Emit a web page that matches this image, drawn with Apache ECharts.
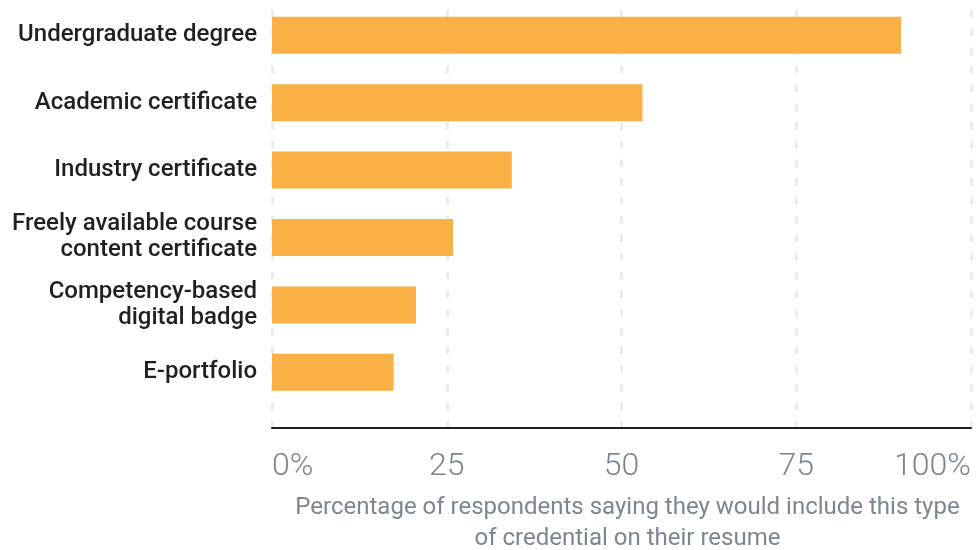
<!DOCTYPE html>
<html>
<head>
<meta charset="utf-8">
<script src="https://cdn.jsdelivr.net/npm/echarts@6/dist/echarts.min.js"></script>
<style>
  html, body { margin: 0; padding: 0; background: #fff; }
  #chart { width: 980px; height: 550px; }
</style>
</head>
<body>
<div id="chart"></div>
<script>
// credential types, top to bottom
const categories = [
  'Undergraduate degree',
  'Academic certificate',
  'Industry certificate',
  'Freely available course\ncontent certificate',
  'Competency-based\ndigital badge',
  'E-portfolio'
]
// % of respondents who would put it on their resume
const shares = [90, 53, 34.3, 25.9, 20.6, 17.4]
const xTicks = { min: 0, max: 100, step: 25 }
const xName = 'Percentage of respondents saying they would include this type\nof credential on their resume'

const chart = echarts.init(document.getElementById('chart'))

const option = {
  animation: false,
  // grid 0 holds the bars, grid 1 only draws the dashed lines + bottom axis
  grid: [
    { left: 272, width: 699, top: 1.5, height: 404.5, outerBoundsMode: 'none', containLabel: false },
    { left: 272, width: 699, top: 10, height: 418, outerBoundsMode: 'none', containLabel: false }
  ],
  xAxis: [
    {
      gridIndex: 0,
      type: 'value',
      min: xTicks.min,
      max: xTicks.max,
      interval: xTicks.step,
      show: false
    },
    {
      gridIndex: 1,
      type: 'value',
      min: xTicks.min,
      max: xTicks.max,
      interval: xTicks.step,
      axisLine: { show: true, onZero: false, lineStyle: { color: '#231f20', width: 2 } },
      axisTick: { show: false },
      splitLine: {
        show: true,
        lineStyle: { color: '#ebebeb', width: 3, type: [7.5, 11.2] }
      },
      axisLabel: {
        margin: 23,
        fontFamily: 'Roboto',
        fontWeight: 300,
        fontSize: 32,
        color: '#7c8692',
        alignMinLabel: 'left',
        alignMaxLabel: 'right',
        formatter: v => (v === xTicks.min || v === xTicks.max) ? v + '%' : '' + v
      },
      name: xName,
      nameLocation: 'middle',
      nameGap: 64,
      nameTextStyle: {
        fontFamily: 'Roboto',
        fontWeight: 400,
        fontSize: 24,
        lineHeight: 31,
        color: '#7c8692',
        padding: [0, 0, 0, 12]
      }
    }
  ],
  yAxis: [
    {
      gridIndex: 0,
      type: 'category',
      data: categories,
      inverse: true,
      axisLine: { show: false },
      axisTick: { show: false },
      splitLine: { show: false },
      axisLabel: {
        margin: 15,
        fontFamily: 'Roboto',
        fontWeight: 500,
        fontSize: 24,
        lineHeight: 26,
        color: '#231f20',
        align: 'right',
        padding: [5, 0, 0, 0]
      }
    },
    {
      gridIndex: 1,
      type: 'value',
      show: false
    }
  ],
  series: [
    {
      type: 'bar',
      xAxisIndex: 0,
      yAxisIndex: 0,
      data: shares,
      barWidth: 37,
      itemStyle: { color: '#fbb045' },
      silent: true
    }
  ]
}

chart.setOption(option)
</script>
</body>
</html>
